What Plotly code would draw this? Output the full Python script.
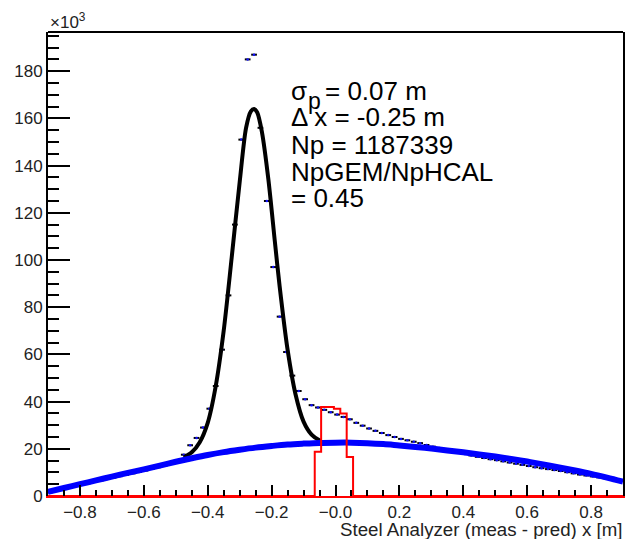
import plotly.graph_objects as go

# ---------------- data (counts in units of 10^3) ----------------
bin_width = 0.02
bin_centers = [round(-0.895 + bin_width * i, 3) for i in range(90)]
counts_k = [
    1.5, 2.2, 2.9, 3.6, 4.2, 4.8, 5.4, 6.0, 6.6, 7.2,
    7.8, 8.4, 9.0, 9.6, 10.2, 10.8, 11.5, 12.2, 12.9, 13.7,
    14.8, 17.5, 21.5, 24.6, 29.0, 37.0, 46.6, 62.0, 85.0, 115.0,
    151.0, 185.0, 187.0, 156.0, 125.0, 97.0, 76.0, 61.0, 51.0, 44.5,
    41.0, 38.5, 37.5, 36.5, 35.5, 34.5, 33.5, 32.5, 31.0, 29.8,
    28.6, 27.6, 26.7, 25.8, 25.0, 24.2, 23.6, 23.0, 22.4, 21.6,
    20.9, 20.3, 19.7, 19.1, 18.5, 17.8, 17.2, 16.6, 16.1, 15.6,
    15.2, 14.7, 14.2, 13.7, 13.2, 12.7, 12.2, 11.8, 11.4, 11.0,
    10.6, 10.1, 9.6, 9.1, 8.7, 8.3, 7.9, 7.5, 7.1, 6.8,
]

# total fit (gaussian + background)
fit_x = [-0.475, -0.45, -0.425, -0.40, -0.375, -0.35, -0.325, -0.30, -0.28,
         -0.265, -0.255, -0.245, -0.23, -0.21, -0.19, -0.175, -0.15, -0.125,
         -0.10, -0.075, -0.05, -0.045]
fit_y = [16.3, 18.5, 22.8, 31.0, 46.5, 70.0, 101.0, 133.0, 156.0,
         163.0, 164.0, 162.5, 154.0, 134.0, 108.0, 89.0, 62.0, 43.0,
         31.5, 26.0, 23.6, 23.4]

# background curve
bg_x = [-0.90, -0.85, -0.80, -0.75, -0.70, -0.65, -0.60, -0.55, -0.50, -0.45,
        -0.40, -0.35, -0.30, -0.25, -0.20, -0.15, -0.10, -0.05, 0.00, 0.05,
        0.10, 0.15, 0.20, 0.25, 0.30, 0.35, 0.40, 0.45, 0.50, 0.55,
        0.60, 0.65, 0.70, 0.75, 0.80, 0.85, 0.90]
bg_y = [1.8, 3.4, 5.0, 6.6, 8.2, 9.8, 11.3, 12.9, 14.5, 16.0,
        17.4, 18.6, 19.6, 20.5, 21.2, 21.8, 22.2, 22.5, 22.6, 22.6,
        22.4, 22.0, 21.4, 20.8, 20.1, 19.3, 18.5, 17.6, 16.7, 15.7,
        14.6, 13.4, 12.1, 10.8, 9.4, 7.8, 6.1]

# GEM-matched histogram (red)
red_centers = [-0.055, -0.035, -0.015, 0.005, 0.025, 0.045]
red_counts_k = [18.7, 37.7, 37.7, 37.0, 35.0, 16.5]

x_tickvals = [-0.8, -0.6, -0.4, -0.2, 0.0, 0.2, 0.4, 0.6, 0.8]
x_ticktext = ["\u22120.8", "\u22120.6", "\u22120.4", "\u22120.2", "\u22120.0",
              "0.2", "0.4", "0.6", "0.8"]
y_tickvals = [0, 20, 40, 60, 80, 100, 120, 140, 160, 180]

stats_lines = ["\u0394 x = -0.25 m", "Np = 1187339", "NpGEM/NpHCAL", "= 0.45"]

FONT = "Liberation Sans, Arial, Helvetica, sans-serif"

fig = go.Figure()

# data histogram: horizontal bars spanning the bin with a small marker
fig.add_trace(go.Scatter(
    x=bin_centers, y=counts_k, mode="markers",
    marker=dict(color="#1010ff", size=2.5),
    error_x=dict(type="constant", value=bin_width * 0.45, color="black",
                 thickness=2, width=0),
    showlegend=False, hoverinfo="skip",
))

# total fit
fig.add_trace(go.Scatter(
    x=fit_x, y=fit_y, mode="lines",
    line=dict(color="black", width=4, shape="spline", smoothing=0.8),
    showlegend=False, hoverinfo="skip",
))

# background
fig.add_trace(go.Scatter(
    x=bg_x, y=bg_y, mode="lines",
    line=dict(color="#0000ff", width=6, shape="spline"),
    showlegend=False, hoverinfo="skip",
))

# red histogram (zero outside the populated bins)
red_x = [-0.9, red_centers[0] - bin_width] + red_centers + [red_centers[-1] + bin_width, 0.9]
red_y = [0, 0] + red_counts_k + [0, 0]
fig.add_trace(go.Scatter(
    x=red_x, y=red_y, mode="lines",
    line=dict(color="#ff0000", width=2, shape="hvh"),
    showlegend=False, hoverinfo="skip",
))

fig.update_xaxes(
    range=[-0.9, 0.9], showgrid=False, zeroline=False,
    showline=True, linecolor="#ff0000", linewidth=2, mirror=False,
    tickmode="array", tickvals=x_tickvals, ticktext=x_ticktext,
    ticks="inside", ticklen=11, tickwidth=2, tickcolor="black",
    minor=dict(dtick=0.05, ticks="inside", ticklen=6, tickwidth=2, tickcolor="black"),
    tickfont=dict(family=FONT, size=17, color="#222"),
)
fig.update_yaxes(
    range=[0, 196.6], showgrid=False, zeroline=False,
    showline=True, linecolor="black", linewidth=2, mirror=True,
    tickmode="array", tickvals=y_tickvals,
    ticks="inside", ticklen=22, tickwidth=2, tickcolor="black",
    minor=dict(dtick=5, ticks="inside", ticklen=11, tickwidth=2, tickcolor="black"),
    tickfont=dict(family=FONT, size=17, color="#222"),
)

H_PLOT = 464.0
W_PLOT = 577.0


def py(pix):
    return (496.0 - pix) / H_PLOT


def px(pix):
    return (pix - 48.0) / W_PLOT


annotations = []
# sigma line
annotations.append(dict(text="\u03c3", x=px(290), y=py(91), xref="paper", yref="paper",
                        xanchor="left", yanchor="middle", showarrow=False,
                        font=dict(family=FONT, size=26, color="black")))
annotations.append(dict(text="p", x=px(307), y=py(101), xref="paper", yref="paper",
                        xanchor="left", yanchor="middle", showarrow=False,
                        font=dict(family=FONT, size=23, color="black")))
annotations.append(dict(text="= 0.07 m", x=px(324), y=py(91), xref="paper", yref="paper",
                        xanchor="left", yanchor="middle", showarrow=False,
                        font=dict(family=FONT, size=26, color="black")))
for txt, c in zip(stats_lines, [117, 145, 172, 198]):
    annotations.append(dict(text=txt, x=px(290), y=py(c), xref="paper", yref="paper",
                            xanchor="left", yanchor="middle", showarrow=False,
                            font=dict(family=FONT, size=26, color="black")))

# x10^3 multiplier
annotations.append(dict(text="\u00d710<sup>3</sup>", x=0.0, y=py(21), xref="paper", yref="paper",
                        xanchor="left", yanchor="middle", showarrow=False,
                        font=dict(family=FONT, size=17, color="#222")))
# x-axis title
annotations.append(dict(text="Steel Analyzer (meas - pred) x [m]", x=1.0, y=py(529),
                        xref="paper", yref="paper", xanchor="right", yanchor="middle",
                        showarrow=False, borderpad=0,
                        font=dict(family=FONT, size=18.7, color="#222")))

fig.update_layout(
    width=626, height=539,
    margin=dict(l=48, r=1, t=32, b=43),
    paper_bgcolor="white", plot_bgcolor="white",
    annotations=annotations,
    shapes=[dict(type="line", xref="paper", yref="paper", x0=0, x1=1, y0=1, y1=1,
                 line=dict(color="black", width=2))],
)

fig.write_html("out.html", config={"displayModeBar": False},
               post_script="document.body.style.margin='0px';")
